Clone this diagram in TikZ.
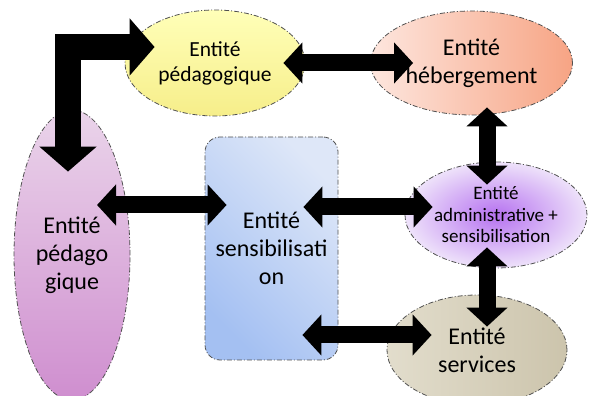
\documentclass[tikz,border=0pt]{standalone}
\usepackage{fontspec}
\setmainfont{Carlito}
\usepackage{xcolor}
\usepackage{tikz}
\usetikzlibrary{shapes,arrows.meta,positioning,calc}

\definecolor{edgegray}{HTML}{505050}
\definecolor{yellowtop}{HTML}{FFFFB8}
\definecolor{yellowbot}{HTML}{F6EE8A}
\definecolor{salmonleft}{HTML}{FDE6DE}
\definecolor{salmonright}{HTML}{F7A484}
\definecolor{pinktop}{HTML}{EAD4EA}
\definecolor{pinkbot}{HTML}{CF8ECF}
\definecolor{bluelight}{HTML}{DEE7F8}
\definecolor{bluedark}{HTML}{A4C0F2}
\definecolor{purpleinner}{HTML}{B672F0}
\definecolor{purpleouter}{HTML}{EEE2FA}
\definecolor{beigeleft}{HTML}{E2DDCC}
\definecolor{beigeright}{HTML}{CCC4AC}

\begin{document}
\begin{tikzpicture}[
    x=1pt, y=1pt,
    entity/.style={ellipse, draw=edgegray, line width=0.8pt, dash pattern=on 5pt off 2pt on 1pt off 2pt, align=center, inner sep=0pt, font=\fontsize{24}{28}\selectfont},
    roundbox/.style={rectangle, draw=edgegray, line width=0.8pt, dash pattern=on 5pt off 2pt on 1pt off 2pt, rounded corners=15pt, align=center, inner sep=0pt, font=\fontsize{24}{28}\selectfont},
    dblarrow/.style={line width=17pt, {Triangle[length=19pt,width=40pt]}-{Triangle[length=19pt,width=40pt]}},
    bigarrow/.style={line width=26pt, line join=miter, {Triangle[length=25pt,width=56pt]}-{Triangle[length=25pt,width=56pt]}}
]
\clip (0,0) rectangle (592,396);

% Entite pedagogique (top)
\node[entity, minimum width=180pt, minimum height=106pt, top color=yellowtop, bottom color=yellowbot, font=\fontsize{21.5}{25}\selectfont] (pedtop) at (215,333) {Entité\\pédagogique};

% Entite hebergement
\node[entity, minimum width=202pt, minimum height=104pt, left color=salmonleft, right color=salmonright] (heberg) at (471.5,333) {Entité\\hébergement};

% Entite pedagogique (left)
\node[entity, minimum width=116pt, minimum height=290pt, top color=pinktop, bottom color=pinkbot] (pedleft) at (72,141) {Entité\\pédago\\gique};

% Entite sensibilisation
\node[roundbox, minimum width=133pt, minimum height=223pt, top color=bluelight, bottom color=bluedark, shading angle=-45] (sensib) at (271.5,147.5) {Entité\\sensibilisati\\on};

% Entite administrative + sensibilisation
\node[entity, minimum width=182pt, minimum height=106pt, inner color=purpleinner, outer color=purpleouter, font=\fontsize{19}{21.5}\selectfont] (admin) at (496,181) {Entité\\administrative +\\sensibilisation};

% Entite services
\node[entity, minimum width=180pt, minimum height=110pt, left color=beigeleft, right color=beigeright] (services) at (477,46) {Entité\\services};

% Connections
\draw[bigarrow] ([shift={(30,16)}]pedtop.west) -| ([shift={(-4,-62)}]pedleft.north);
\draw[dblarrow] ([xshift=-22pt]pedtop.east) -- ([xshift=43pt]heberg.west);
\draw[dblarrow] ([shift={(15.5,8)}]heberg.south) -- ([shift={(-9,-23)}]admin.north);
\draw[dblarrow] ([shift={(25,50)}]pedleft.center) -- ([shift={(22,43.5)}]sensib.west);
\draw[dblarrow] ([shift={(-35,41.5)}]sensib.east) -- ([shift={(28,8)}]admin.west);
\draw[dblarrow] ([shift={(-9,21)}]admin.south) -- ([shift={(10,-32)}]services.north);
\draw[dblarrow] ([shift={(-36,-86.5)}]sensib.east) -- ([shift={(45,15)}]services.west);

\end{tikzpicture}
\end{document}
